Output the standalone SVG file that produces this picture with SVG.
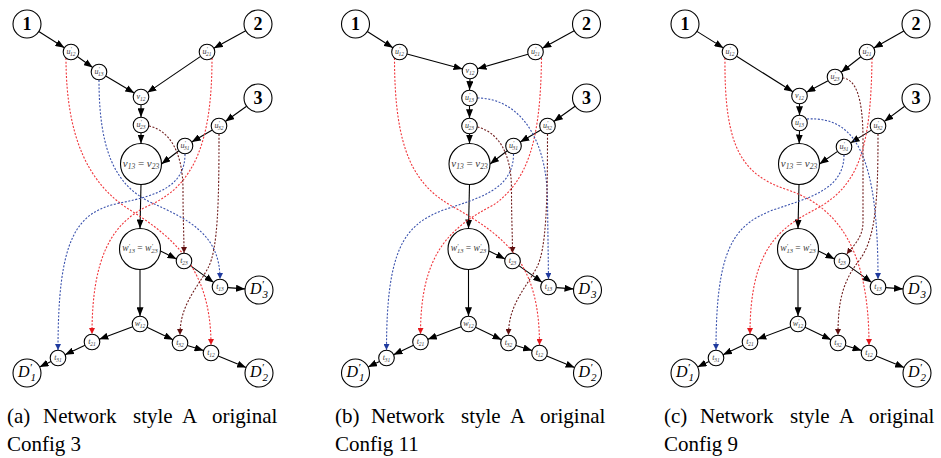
<svg xmlns="http://www.w3.org/2000/svg" width="941" height="458" viewBox="0 0 941 458">
<defs>
<style>
.nd circle{fill:#fff;stroke:#000;stroke-width:1.1}
.lb{font-family:"Liberation Serif","DejaVu Serif",serif;font-style:italic;fill:#3a3a3a;text-anchor:middle}
.s{font-size:8px}
.sb{font-size:5.5px}
.num{font-family:"Liberation Serif","DejaVu Serif",serif;font-weight:bold;font-size:18px;text-anchor:middle;fill:#000}
.D{font-size:16px;fill:#000}
.dsb{font-size:11px}
.big{font-size:11px}
.bsb{font-size:7.5px}
.wl{font-size:9.5px}
.wsb{font-size:6.5px}
.rm{font-style:normal}
.e{stroke:#000;stroke-width:1.1;fill:none;marker-end:url(#ak)}
.dr,.db,.dm{stroke-width:1.1;fill:none;stroke-dasharray:2 1.6}
.dr{stroke:#f0353a;marker-end:url(#ar)}
.db{stroke:#3a52ad;marker-end:url(#ab)}
.dm{stroke:#6e1c1c;marker-end:url(#am)}
.cap{font-family:"Liberation Serif","Times New Roman",serif;font-size:21px;fill:#000}
</style>
<marker id="ak" viewBox="0 0 9 7" refX="9" refY="3.5" markerWidth="9" markerHeight="7" orient="auto" markerUnits="userSpaceOnUse"><path d="M0,0 L9,3.5 L0,7 Z" fill="#000"/></marker>
<marker id="ar" viewBox="0 0 6 6" refX="6" refY="3" markerWidth="6" markerHeight="6" orient="auto" markerUnits="userSpaceOnUse"><path d="M0,0 L6,3 L0,6 Z" fill="#e3171c"/></marker>
<marker id="ab" viewBox="0 0 6 6" refX="6" refY="3" markerWidth="6" markerHeight="6" orient="auto" markerUnits="userSpaceOnUse"><path d="M0,0 L6,3 L0,6 Z" fill="#1f3a9e"/></marker>
<marker id="am" viewBox="0 0 6 6" refX="6" refY="3" markerWidth="6" markerHeight="6" orient="auto" markerUnits="userSpaceOnUse"><path d="M0,0 L6,3 L0,6 Z" fill="#5e0f0f"/></marker>
</defs>

<!-- ===================== Panel (a) ===================== -->
<g id="panel-a">
<g id="a-connectors">
<path class="e" d="M38.8,31.5 L64.4,47.8"/>
<path class="e" d="M77.3,56.5 L92.7,67.5"/>
<path class="e" d="M105.7,76 L134.3,93"/>
<path class="e" d="M245.7,30.7 L213.8,48.3"/>
<path class="e" d="M200.6,56.4 L147.4,92.6"/>
<path class="e" d="M141,104.8 L141,117.2"/>
<path class="e" d="M141,132.8 L141,143.5"/>
<path class="e" d="M246.6,106.2 L225.3,121.5"/>
<path class="e" d="M212.3,130 L191.7,142"/>
<path class="e" d="M178.8,150.7 L161.5,164"/>
<path class="e" d="M141,184.5 L140,228.5"/>
<path class="e" d="M160.5,251 L176.5,258.9"/>
<path class="e" d="M190.3,265.6 L213.7,282.4"/>
<path class="e" d="M227.8,287.6 L245,288.9"/>
<path class="e" d="M140,269.5 L140,316.2"/>
<path class="e" d="M132.7,326.7 L99.3,339.3"/>
<path class="e" d="M85,345.3 L65,354.7"/>
<path class="e" d="M51,361.4 L39.6,366.9"/>
<path class="e" d="M147,327.3 L173,339.7"/>
<path class="e" d="M187.4,345.4 L203.6,350.6"/>
<path class="e" d="M218.2,356 L246.1,367.6"/>
<path class="dr" d="M66,58 C66,140 90,185 130,210 C175,238 211,270 211,345"/>
<path class="dr" d="M212,58 C212,140 195,185 150,205 C110,223 92,260 92,334"/>
<path class="db" d="M99,80 C99,150 115,185 150,202 C190,220 220,235 220,279"/>
<path class="db" d="M185,154 C185,185 160,195 120,203 C75,212 58,240 58,350"/>
<path class="dm" d="M149,126 C168,130 183,150 183,190 C183,220 184,235 184,253"/>
<path class="dm" d="M219,134 C219,200 218,250 208,268 C196,290 180,305 180,335"/>
</g>
<g id="a-n1" class="nd"><circle cx="27" cy="24" r="14"/><text class="num" x="27" y="30">1</text></g>
<g id="a-n2" class="nd"><circle cx="258" cy="24" r="14"/><text class="num" x="258" y="30">2</text></g>
<g id="a-n3" class="nd"><circle cx="258" cy="98" r="14"/><text class="num" x="258" y="104">3</text></g>
<g id="a-u12" class="nd"><circle cx="71" cy="52" r="7.8"/><text class="lb s" x="71" y="53.5">u<tspan class="sb" dy="-2.8">′</tspan><tspan class="sb" dx="-1.5" dy="4.8">12</tspan></text></g>
<g id="a-u13" class="nd"><circle cx="99" cy="72" r="7.8"/><text class="lb s" x="99" y="73.5">u<tspan class="sb" dy="-2.8">′</tspan><tspan class="sb" dx="-1.5" dy="4.8">13</tspan></text></g>
<g id="a-u21" class="nd"><circle cx="207" cy="52" r="7.8"/><text class="lb s" x="207" y="53.5">u<tspan class="sb" dy="-2.8">′</tspan><tspan class="sb" dx="-1.5" dy="4.8">21</tspan></text></g>
<g id="a-v12" class="nd"><circle cx="141" cy="97" r="7.8"/><text class="lb s" x="141" y="98.8">v<tspan class="sb" dy="1.8">12</tspan></text></g>
<g id="a-u23" class="nd"><circle cx="141" cy="125" r="7.8"/><text class="lb s" x="141" y="126.5">u<tspan class="sb" dy="-2.8">′</tspan><tspan class="sb" dx="-1.5" dy="4.8">23</tspan></text></g>
<g id="a-u32" class="nd"><circle cx="219" cy="126" r="7.8"/><text class="lb s" x="219" y="127.5">u<tspan class="sb" dy="-2.8">′</tspan><tspan class="sb" dx="-1.5" dy="4.8">32</tspan></text></g>
<g id="a-u31" class="nd"><circle cx="185" cy="146" r="7.8"/><text class="lb s" x="185" y="147.5">u<tspan class="sb" dy="-2.8">′</tspan><tspan class="sb" dx="-1.5" dy="4.8">31</tspan></text></g>
<g id="a-v13v23" class="nd"><circle cx="141" cy="164" r="20.5"/><text class="lb big" x="141" y="167.2">v<tspan class="bsb" dy="2">13</tspan><tspan class="rm" dy="-2"> = </tspan>v<tspan class="bsb" dy="2">23</tspan></text></g>
<g id="a-w13w23" class="nd"><circle cx="140" cy="249" r="20.5"/><text class="lb wl" x="140" y="251">w<tspan class="wsb" dy="-2.8">′</tspan><tspan class="wsb" dx="-1.6" dy="5">13</tspan><tspan class="rm" dy="-2.2"> = </tspan>w<tspan class="wsb" dy="-2.8">′</tspan><tspan class="wsb" dx="-1.6" dy="5">23</tspan></text></g>
<g id="a-t23" class="nd"><circle cx="184" cy="261" r="7.8"/><text class="lb s" x="184" y="262.8">t<tspan class="sb" dy="1.8">23</tspan></text></g>
<g id="a-t13" class="nd"><circle cx="220" cy="287" r="7.8"/><text class="lb s" x="220" y="288.8">t<tspan class="sb" dy="1.8">13</tspan></text></g>
<g id="a-D3" class="nd"><circle cx="259" cy="290" r="14"/><text class="lb D" x="259" y="294">D<tspan class="dsb" dy="-6">′</tspan><tspan class="dsb" dx="-1.5" dy="10">3</tspan></text></g>
<g id="a-w12" class="nd"><circle cx="140" cy="324" r="7.8"/><text class="lb s" x="140" y="325.5">w<tspan class="sb" dy="-2.8">′</tspan><tspan class="sb" dx="-1.5" dy="4.8">12</tspan></text></g>
<g id="a-t21" class="nd"><circle cx="92" cy="342" r="7.8"/><text class="lb s" x="92" y="343.8">t<tspan class="sb" dy="1.8">21</tspan></text></g>
<g id="a-t31" class="nd"><circle cx="58" cy="358" r="7.8"/><text class="lb s" x="58" y="359.8">t<tspan class="sb" dy="1.8">31</tspan></text></g>
<g id="a-D1" class="nd"><circle cx="27" cy="373" r="14"/><text class="lb D" x="27" y="377">D<tspan class="dsb" dy="-6">′</tspan><tspan class="dsb" dx="-1.5" dy="10">1</tspan></text></g>
<g id="a-t32" class="nd"><circle cx="180" cy="343" r="7.8"/><text class="lb s" x="180" y="344.8">t<tspan class="sb" dy="1.8">32</tspan></text></g>
<g id="a-t12" class="nd"><circle cx="211" cy="353" r="7.8"/><text class="lb s" x="211" y="354.8">t<tspan class="sb" dy="1.8">12</tspan></text></g>
<g id="a-D2" class="nd"><circle cx="259" cy="373" r="14"/><text class="lb D" x="259" y="377">D<tspan class="dsb" dy="-6">′</tspan><tspan class="dsb" dx="-1.5" dy="10">2</tspan></text></g>
</g>

<!-- ===================== Panel (b) ===================== -->
<g id="panel-b" transform="translate(328.5,0)">
<g id="b-connectors">
<path class="e" d="M38.8,31.5 L64.4,47.8"/>
<path class="e" d="M78.5,54 L134,69"/>
<path class="e" d="M245.7,30.7 L213.8,48.3"/>
<path class="e" d="M199.5,54.2 L149,68.8"/>
<path class="e" d="M141.5,78.8 L141,90.2"/>
<path class="e" d="M141,105.8 L141,118.2"/>
<path class="e" d="M141,133.8 L141,143.5"/>
<path class="e" d="M246.6,106.2 L225.3,121.5"/>
<path class="e" d="M212.3,130 L191.7,142"/>
<path class="e" d="M178.8,150.7 L161.5,164"/>
<path class="e" d="M141,184.5 L140,228.5"/>
<path class="e" d="M160.5,251 L176.5,258.9"/>
<path class="e" d="M190.3,265.6 L213.7,282.4"/>
<path class="e" d="M227.8,287.6 L245,288.9"/>
<path class="e" d="M140,269.5 L140,316.2"/>
<path class="e" d="M132.7,326.7 L99.3,339.3"/>
<path class="e" d="M85,345.3 L65,354.7"/>
<path class="e" d="M51,361.4 L39.6,366.9"/>
<path class="e" d="M147,327.3 L173,339.7"/>
<path class="e" d="M187.4,345.4 L203.6,350.6"/>
<path class="e" d="M218.2,356 L246.1,367.6"/>
<path class="dr" d="M66,58 C66,150 85,185 125,207 C180,238 211,265 211,345"/>
<path class="dr" d="M213,58 C212,140 200,180 165,205 C120,228 92,255 92,334"/>
<path class="db" d="M149,98 C185,98 218,130 219,200 L220,279"/>
<path class="db" d="M185,154 C185,190 150,198 115,210 C75,225 58,250 58,350"/>
<path class="dm" d="M149,127 C168,132 183,150 183,190 C183,220 184,235 184,253"/>
<path class="dm" d="M219,134 C219,200 218,250 208,268 C196,290 180,305 180,335"/>
</g>
<g id="b-n1" class="nd"><circle cx="27" cy="24" r="14"/><text class="num" x="27" y="30">1</text></g>
<g id="b-n2" class="nd"><circle cx="258" cy="24" r="14"/><text class="num" x="258" y="30">2</text></g>
<g id="b-n3" class="nd"><circle cx="258" cy="98" r="14"/><text class="num" x="258" y="104">3</text></g>
<g id="b-u12" class="nd"><circle cx="71" cy="52" r="7.8"/><text class="lb s" x="71" y="53.5">u<tspan class="sb" dy="-2.8">′</tspan><tspan class="sb" dx="-1.5" dy="4.8">12</tspan></text></g>
<g id="b-u21" class="nd"><circle cx="207" cy="52" r="7.8"/><text class="lb s" x="207" y="53.5">u<tspan class="sb" dy="-2.8">′</tspan><tspan class="sb" dx="-1.5" dy="4.8">21</tspan></text></g>
<g id="b-v12" class="nd"><circle cx="141.5" cy="71" r="7.8"/><text class="lb s" x="141.5" y="72.8">v<tspan class="sb" dy="1.8">12</tspan></text></g>
<g id="b-u13" class="nd"><circle cx="141" cy="98" r="7.8"/><text class="lb s" x="141" y="99.5">u<tspan class="sb" dy="-2.8">′</tspan><tspan class="sb" dx="-1.5" dy="4.8">13</tspan></text></g>
<g id="b-u23" class="nd"><circle cx="141" cy="126" r="7.8"/><text class="lb s" x="141" y="127.5">u<tspan class="sb" dy="-2.8">′</tspan><tspan class="sb" dx="-1.5" dy="4.8">23</tspan></text></g>
<g id="b-u32" class="nd"><circle cx="219" cy="126" r="7.8"/><text class="lb s" x="219" y="127.5">u<tspan class="sb" dy="-2.8">′</tspan><tspan class="sb" dx="-1.5" dy="4.8">32</tspan></text></g>
<g id="b-u31" class="nd"><circle cx="185" cy="146" r="7.8"/><text class="lb s" x="185" y="147.5">u<tspan class="sb" dy="-2.8">′</tspan><tspan class="sb" dx="-1.5" dy="4.8">31</tspan></text></g>
<g id="b-v13v23" class="nd"><circle cx="141" cy="164" r="20.5"/><text class="lb big" x="141" y="167.2">v<tspan class="bsb" dy="2">13</tspan><tspan class="rm" dy="-2"> = </tspan>v<tspan class="bsb" dy="2">23</tspan></text></g>
<g id="b-w13w23" class="nd"><circle cx="140" cy="249" r="20.5"/><text class="lb wl" x="140" y="251">w<tspan class="wsb" dy="-2.8">′</tspan><tspan class="wsb" dx="-1.6" dy="5">13</tspan><tspan class="rm" dy="-2.2"> = </tspan>w<tspan class="wsb" dy="-2.8">′</tspan><tspan class="wsb" dx="-1.6" dy="5">23</tspan></text></g>
<g id="b-t23" class="nd"><circle cx="184" cy="261" r="7.8"/><text class="lb s" x="184" y="262.8">t<tspan class="sb" dy="1.8">23</tspan></text></g>
<g id="b-t13" class="nd"><circle cx="220" cy="287" r="7.8"/><text class="lb s" x="220" y="288.8">t<tspan class="sb" dy="1.8">13</tspan></text></g>
<g id="b-D3" class="nd"><circle cx="259" cy="290" r="14"/><text class="lb D" x="259" y="294">D<tspan class="dsb" dy="-6">′</tspan><tspan class="dsb" dx="-1.5" dy="10">3</tspan></text></g>
<g id="b-w12" class="nd"><circle cx="140" cy="324" r="7.8"/><text class="lb s" x="140" y="325.5">w<tspan class="sb" dy="-2.8">′</tspan><tspan class="sb" dx="-1.5" dy="4.8">12</tspan></text></g>
<g id="b-t21" class="nd"><circle cx="92" cy="342" r="7.8"/><text class="lb s" x="92" y="343.8">t<tspan class="sb" dy="1.8">21</tspan></text></g>
<g id="b-t31" class="nd"><circle cx="58" cy="358" r="7.8"/><text class="lb s" x="58" y="359.8">t<tspan class="sb" dy="1.8">31</tspan></text></g>
<g id="b-D1" class="nd"><circle cx="27" cy="373" r="14"/><text class="lb D" x="27" y="377">D<tspan class="dsb" dy="-6">′</tspan><tspan class="dsb" dx="-1.5" dy="10">1</tspan></text></g>
<g id="b-t32" class="nd"><circle cx="180" cy="343" r="7.8"/><text class="lb s" x="180" y="344.8">t<tspan class="sb" dy="1.8">32</tspan></text></g>
<g id="b-t12" class="nd"><circle cx="211" cy="353" r="7.8"/><text class="lb s" x="211" y="354.8">t<tspan class="sb" dy="1.8">12</tspan></text></g>
<g id="b-D2" class="nd"><circle cx="259" cy="373" r="14"/><text class="lb D" x="259" y="377">D<tspan class="dsb" dy="-6">′</tspan><tspan class="dsb" dx="-1.5" dy="10">2</tspan></text></g>
</g>

<!-- ===================== Panel (c) ===================== -->
<g id="panel-c" transform="translate(658,0)">
<g id="c-connectors">
<path class="e" d="M38.9,31.4 L65.4,47.9"/>
<path class="e" d="M78.6,56.2 L134.9,91.8"/>
<path class="e" d="M245.8,30.9 L215.8,48.1"/>
<path class="e" d="M202.9,56.8 L183.1,72.3"/>
<path class="e" d="M170.1,80.7 L148.4,92.3"/>
<path class="e" d="M141.5,103.8 L141.5,115.2"/>
<path class="e" d="M141.5,130.8 L141.2,143.5"/>
<path class="e" d="M246.7,106.3 L226.3,121.4"/>
<path class="e" d="M213.4,130.1 L192.6,142.9"/>
<path class="e" d="M179.6,151.4 L161.5,164"/>
<path class="e" d="M141,184.5 L140,228.5"/>
<path class="e" d="M160.5,251 L176.5,258.9"/>
<path class="e" d="M190.3,265.6 L213.7,282.4"/>
<path class="e" d="M227.8,287.6 L245,288.9"/>
<path class="e" d="M140,269.5 L140,316.2"/>
<path class="e" d="M132.7,326.7 L99.3,339.3"/>
<path class="e" d="M85,345.3 L65,354.7"/>
<path class="e" d="M51,361.4 L39.6,366.9"/>
<path class="e" d="M147,327.3 L173,339.7"/>
<path class="e" d="M187.4,345.4 L203.6,350.6"/>
<path class="e" d="M218.2,356 L246.1,367.6"/>
<path class="dr" d="M67,58 C66,150 85,175 130,190 C180,207 211,250 211,345"/>
<path class="dr" d="M214,58 C213,150 200,185 160,208 C120,228 92,250 92,334"/>
<path class="db" d="M149,119 C200,116 220,160 220,279"/>
<path class="db" d="M186,155 C186,190 150,198 115,210 C75,225 58,250 58,350"/>
<path class="dm" d="M184.5,78 C197,79 205,95 205,140 L205,222 C205,238 195,246 188.8,254"/>
<path class="dm" d="M220,134 C220,200 218,240 200,262 C185,282 180,300 180,335"/>
</g>
<g id="c-n1" class="nd"><circle cx="27" cy="24" r="14"/><text class="num" x="27" y="30">1</text></g>
<g id="c-n2" class="nd"><circle cx="258" cy="24" r="14"/><text class="num" x="258" y="30">2</text></g>
<g id="c-n3" class="nd"><circle cx="258" cy="98" r="14"/><text class="num" x="258" y="104">3</text></g>
<g id="c-u12" class="nd"><circle cx="72" cy="52" r="7.8"/><text class="lb s" x="72" y="53.5">u<tspan class="sb" dy="-2.8">′</tspan><tspan class="sb" dx="-1.5" dy="4.8">12</tspan></text></g>
<g id="c-u21" class="nd"><circle cx="209" cy="52" r="7.8"/><text class="lb s" x="209" y="53.5">u<tspan class="sb" dy="-2.8">′</tspan><tspan class="sb" dx="-1.5" dy="4.8">21</tspan></text></g>
<g id="c-u23" class="nd"><circle cx="177" cy="77" r="7.8"/><text class="lb s" x="177" y="78.5">u<tspan class="sb" dy="-2.8">′</tspan><tspan class="sb" dx="-1.5" dy="4.8">23</tspan></text></g>
<g id="c-v12" class="nd"><circle cx="141.5" cy="96" r="7.8"/><text class="lb s" x="141.5" y="97.8">v<tspan class="sb" dy="1.8">12</tspan></text></g>
<g id="c-u13" class="nd"><circle cx="141.5" cy="123" r="7.8"/><text class="lb s" x="141.5" y="124.5">u<tspan class="sb" dy="-2.8">′</tspan><tspan class="sb" dx="-1.5" dy="4.8">13</tspan></text></g>
<g id="c-u32" class="nd"><circle cx="220" cy="126" r="7.8"/><text class="lb s" x="220" y="127.5">u<tspan class="sb" dy="-2.8">′</tspan><tspan class="sb" dx="-1.5" dy="4.8">32</tspan></text></g>
<g id="c-u31" class="nd"><circle cx="186" cy="147" r="7.8"/><text class="lb s" x="186" y="148.5">u<tspan class="sb" dy="-2.8">′</tspan><tspan class="sb" dx="-1.5" dy="4.8">31</tspan></text></g>
<g id="c-v13v23" class="nd"><circle cx="141" cy="164" r="20.5"/><text class="lb big" x="141" y="167.2">v<tspan class="bsb" dy="2">13</tspan><tspan class="rm" dy="-2"> = </tspan>v<tspan class="bsb" dy="2">23</tspan></text></g>
<g id="c-w13w23" class="nd"><circle cx="140" cy="249" r="20.5"/><text class="lb wl" x="140" y="251">w<tspan class="wsb" dy="-2.8">′</tspan><tspan class="wsb" dx="-1.6" dy="5">13</tspan><tspan class="rm" dy="-2.2"> = </tspan>w<tspan class="wsb" dy="-2.8">′</tspan><tspan class="wsb" dx="-1.6" dy="5">23</tspan></text></g>
<g id="c-t23" class="nd"><circle cx="184" cy="261" r="7.8"/><text class="lb s" x="184" y="262.8">t<tspan class="sb" dy="1.8">23</tspan></text></g>
<g id="c-t13" class="nd"><circle cx="220" cy="287" r="7.8"/><text class="lb s" x="220" y="288.8">t<tspan class="sb" dy="1.8">13</tspan></text></g>
<g id="c-D3" class="nd"><circle cx="259" cy="290" r="14"/><text class="lb D" x="259" y="294">D<tspan class="dsb" dy="-6">′</tspan><tspan class="dsb" dx="-1.5" dy="10">3</tspan></text></g>
<g id="c-w12" class="nd"><circle cx="140" cy="324" r="7.8"/><text class="lb s" x="140" y="325.5">w<tspan class="sb" dy="-2.8">′</tspan><tspan class="sb" dx="-1.5" dy="4.8">12</tspan></text></g>
<g id="c-t21" class="nd"><circle cx="92" cy="342" r="7.8"/><text class="lb s" x="92" y="343.8">t<tspan class="sb" dy="1.8">21</tspan></text></g>
<g id="c-t31" class="nd"><circle cx="58" cy="358" r="7.8"/><text class="lb s" x="58" y="359.8">t<tspan class="sb" dy="1.8">31</tspan></text></g>
<g id="c-D1" class="nd"><circle cx="27" cy="373" r="14"/><text class="lb D" x="27" y="377">D<tspan class="dsb" dy="-6">′</tspan><tspan class="dsb" dx="-1.5" dy="10">1</tspan></text></g>
<g id="c-t32" class="nd"><circle cx="180" cy="343" r="7.8"/><text class="lb s" x="180" y="344.8">t<tspan class="sb" dy="1.8">32</tspan></text></g>
<g id="c-t12" class="nd"><circle cx="211" cy="353" r="7.8"/><text class="lb s" x="211" y="354.8">t<tspan class="sb" dy="1.8">12</tspan></text></g>
<g id="c-D2" class="nd"><circle cx="259" cy="373" r="14"/><text class="lb D" x="259" y="377">D<tspan class="dsb" dy="-6">′</tspan><tspan class="dsb" dx="-1.5" dy="10">2</tspan></text></g>
</g>

<!-- ===================== Captions ===================== -->
<g id="captions" class="cap">
<text x="7" y="423">(a)</text><text x="43" y="423">Network</text><text x="133" y="423">style</text><text x="182" y="423">A</text><text x="212" y="423">original</text>
<text x="7" y="451">Config 3</text>
<text x="335" y="423">(b)</text><text x="371" y="423">Network</text><text x="461" y="423">style</text><text x="510" y="423">A</text><text x="540" y="423">original</text>
<text x="335" y="451">Config 11</text>
<text x="664" y="423">(c)</text><text x="700" y="423">Network</text><text x="790" y="423">style</text><text x="839" y="423">A</text><text x="869" y="423">original</text>
<text x="664" y="451">Config 9</text>
</g>
</svg>
